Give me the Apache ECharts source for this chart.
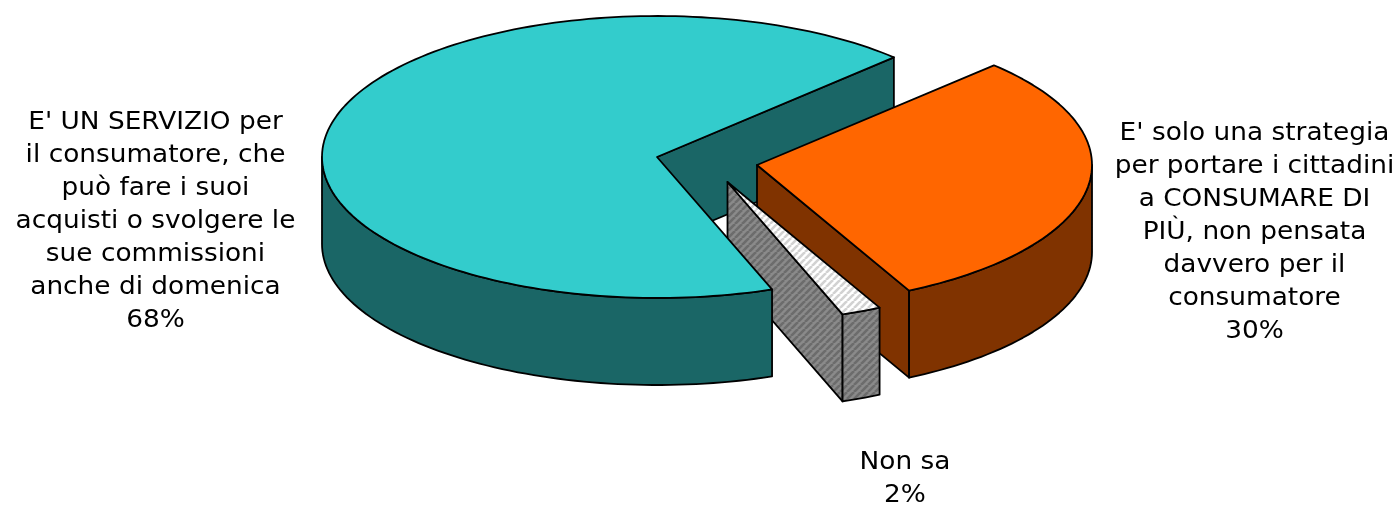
<!DOCTYPE html>
<html>
<head>
<meta charset="utf-8">
<style>html,body{margin:0;padding:0;background:#fff}#c{width:1397px;height:506px}</style>
<script src="https://cdn.jsdelivr.net/npm/echarts@6/dist/echarts.min.js"></script>
</head>
<body>
<div id="c"></div>
<script>
// Data, in drawing order going clockwise from the start angle
var categories = ['orange', 'grey', 'teal'];
var values = [30, 1.92, 68.08];
var labels = [
  "E' solo una strategia\nper portare i cittadini\na CONSUMARE DI\nPIÙ, non pensata\ndavvero per il\nconsumatore\n30%",
  "Non sa\n2%",
  "E' UN SERVIZIO per\nil consumatore, che\npuò fare i suoi\nacquisti o svolgere le\nsue commissioni\nanche di domenica\n68%"
];
// Layout and style
var startAngle = 45, rx = 335, ry = 141, depth = 87;
var tips = [[757, 165], [727.5, 182], [657, 157]];
var labelAnchors = [[1254.5, 232], [905, 479], [155.5, 221]];
var topColors = ['#FF6600', null, '#33CCCC'];
var sideColors = ['#803300', null, '#1A6666'];

function stripes(bg, fg) {
  var s = 7, c = document.createElement('canvas');
  c.width = s; c.height = s;
  var g = c.getContext('2d');
  g.fillStyle = bg; g.fillRect(0, 0, s, s);
  g.strokeStyle = fg; g.lineWidth = 2.6;
  for (var i = -s; i <= 2 * s; i += s) {
    g.beginPath(); g.moveTo(i, s); g.lineTo(i + s, 0); g.stroke();
  }
  return c;
}
var greyTop = { image: stripes('#ffffff', '#d2d2d2'), repeat: 'repeat' };
var greySide = { image: stripes('#8a8a8a', '#6c6c6c'), repeat: 'repeat' };

var total = values.reduce(function (a, b) { return a + b; }, 0);
var cumulative = [], run = 0;
values.forEach(function (v) { cumulative.push(run); run += v; });
var seriesData = values.map(function (v, i) { return [v, cumulative[i]]; });

function pt(tip, deg, dz) {
  var r = deg * Math.PI / 180;
  return [tip[0] + rx * Math.cos(r), tip[1] - ry * Math.sin(r) + (dz || 0)];
}
function arc(tip, from, to, dz) {
  var out = [], n = Math.max(2, Math.ceil(Math.abs(from - to) / 1.5));
  for (var i = 0; i <= n; i++) out.push(pt(tip, from + (to - from) * i / n, dz));
  return out;
}

function renderItem(params, api) {
  var i = params.dataIndex;
  var a0 = startAngle - api.value(1) / total * 360;
  var a1 = a0 - api.value(0) / total * 360;
  var tip = tips[i];
  var topFill = topColors[i] || greyTop, sideFill = sideColors[i] || greySide;
  function st(fill) { return { fill: fill, stroke: '#000', lineWidth: 1.8, lineJoin: 'round' }; }
  var kids = [];
  var z = 10 + i * 10;

  // Cut face at the end angle
  var e = pt(tip, a1), e2 = pt(tip, a1, depth);
  var faceZ = Math.sin(a1 * Math.PI / 180) > 0 ? 1 : z;
  kids.push({ type: 'polygon', z2: faceZ, shape: { points: [tip, e, e2, [tip[0], tip[1] + depth]] }, style: st(sideFill) });

  // Outer wall: only the front half of the rim shows
  var f0 = Math.min(a0, 0), f1 = Math.max(a1, -180);
  if (f0 > f1) {
    var upper = arc(tip, f0, f1, 0), lower = arc(tip, f1, f0, depth);
    kids.push({ type: 'polygon', z2: z + 1, shape: { points: upper.concat(lower) }, style: st(sideFill) });
  }
  // Top surface
  kids.push({ type: 'polygon', z2: z + 2, shape: { points: [tip].concat(arc(tip, a0, a1, 0)) }, style: st(topFill) });
  // Label
  kids.push({
    type: 'text', z2: 100,
    x: labelAnchors[i][0], y: labelAnchors[i][1], scaleX: 1.03,
    style: {
      text: labels[i], x: 0, y: 0,
      fill: '#000', font: '25.6px "DejaVu Sans"', lineHeight: 33,
      textAlign: 'center', textVerticalAlign: 'middle'
    }
  });
  return { type: 'group', children: kids };
}

var chart = echarts.init(document.getElementById('c'), null, { renderer: 'canvas' });
chart.setOption({
  backgroundColor: '#fff',
  animation: false,
  series: [{
    type: 'custom',
    coordinateSystem: 'none',
    silent: true,
    renderItem: renderItem,
    data: seriesData
  }]
});
</script>
</body>
</html>
